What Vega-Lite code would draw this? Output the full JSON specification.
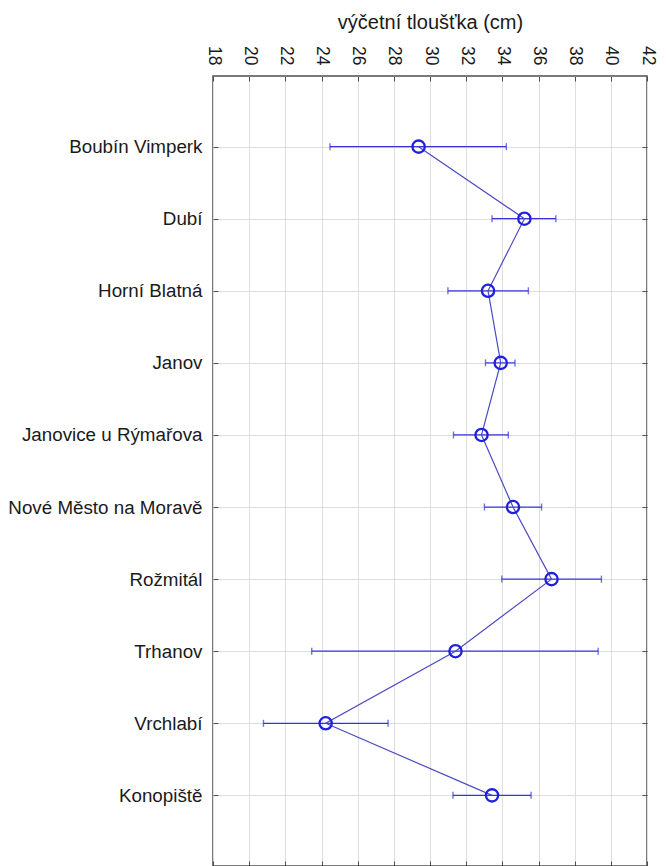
{
  "$schema": "https://vega.github.io/schema/vega-lite/v6.json",
  "autosize": {"type": "none"},
  "width": 434,
  "height": 790,
  "padding": {"left": 213, "top": 76, "right": 19, "bottom": 0},
  "background": "white",
  "data": {
    "values": [
      {"poradi": 1, "lokalita": "Boubín Vimperk", "prumer": 29.37, "dolni": 24.47, "horni": 34.22},
      {"poradi": 2, "lokalita": "Dubí", "prumer": 35.22, "dolni": 33.43, "horni": 36.96},
      {"poradi": 3, "lokalita": "Horní Blatná", "prumer": 33.21, "dolni": 30.99, "horni": 35.44},
      {"poradi": 4, "lokalita": "Janov", "prumer": 33.91, "dolni": 33.07, "horni": 34.7},
      {"poradi": 5, "lokalita": "Janovice u Rýmařova", "prumer": 32.85, "dolni": 31.3, "horni": 34.33},
      {"poradi": 6, "lokalita": "Nové Město na Moravě", "prumer": 34.59, "dolni": 33.01, "horni": 36.17},
      {"poradi": 7, "lokalita": "Rožmitál", "prumer": 36.72, "dolni": 33.97, "horni": 39.48},
      {"poradi": 8, "lokalita": "Trhanov", "prumer": 31.41, "dolni": 23.46, "horni": 39.3},
      {"poradi": 9, "lokalita": "Vrchlabí", "prumer": 24.23, "dolni": 20.79, "horni": 27.68},
      {"poradi": 10, "lokalita": "Konopiště", "prumer": 33.43, "dolni": 31.27, "horni": 35.59}
    ]
  },
  "encoding": {
    "y": {
      "field": "lokalita",
      "type": "nominal",
      "sort": ["Boubín Vimperk", "Dubí", "Horní Blatná", "Janov", "Janovice u Rýmařova", "Nové Město na Moravě", "Rožmitál", "Trhanov", "Vrchlabí", "Konopiště"],
      "scale": {"type": "point", "padding": 0.98},
      "axis": null
    }
  },
  "layer": [
    {
      "mark": {"type": "rule", "color": "#3535d6", "strokeWidth": 1.2},
      "encoding": {
        "x": {
          "field": "dolni",
          "type": "quantitative",
          "scale": {"domain": [18, 42], "nice": false, "zero": false},
          "axis": {
            "orient": "top",
            "title": "výčetní tloušťka (cm)",
            "titleFontSize": 20,
            "titleFontWeight": "normal",
            "titleColor": "#1a1a1a",
            "titlePadding": 13,
            "values": [18, 20, 22, 24, 26, 28, 30, 32, 34, 36, 38, 40, 42],
            "labelAngle": 90,
            "labelFontSize": 17.5,
            "labelPadding": 16,
            "grid": true
          }
        },
        "x2": {"field": "horni"},
        "y": {
          "field": "lokalita",
          "type": "nominal",
          "sort": ["Boubín Vimperk", "Dubí", "Horní Blatná", "Janov", "Janovice u Rýmařova", "Nové Město na Moravě", "Rožmitál", "Trhanov", "Vrchlabí", "Konopiště"],
          "scale": {"type": "point", "padding": 0.98},
          "axis": {
            "orient": "left",
            "title": null,
            "labelFontSize": 18.8,
            "labelPadding": 16,
            "labelLimit": 400,
            "grid": true
          }
        }
      }
    },
    {
      "mark": {"type": "tick", "color": "#3535d6", "thickness": 1.4, "size": 7},
      "encoding": {
        "x": {
          "field": "dolni",
          "type": "quantitative",
          "axis": {"orient": "bottom", "title": null, "labels": false, "grid": false, "values": [18, 20, 22, 24, 26, 28, 30, 32, 34, 36, 38, 40, 42]}
        },
        "y": {
          "field": "lokalita",
          "type": "nominal",
          "sort": ["Boubín Vimperk", "Dubí", "Horní Blatná", "Janov", "Janovice u Rýmařova", "Nové Město na Moravě", "Rožmitál", "Trhanov", "Vrchlabí", "Konopiště"],
          "axis": {"orient": "right", "title": null, "labels": false, "grid": false}
        }
      }
    },
    {
      "mark": {"type": "tick", "color": "#3535d6", "thickness": 1.4, "size": 7},
      "encoding": {
        "x": {"field": "horni", "type": "quantitative", "axis": null}
      }
    },
    {
      "mark": {"type": "line", "color": "#4a4ac4", "strokeWidth": 1.2},
      "encoding": {
        "x": {"field": "prumer", "type": "quantitative", "axis": null},
        "order": {"field": "poradi", "type": "quantitative"}
      }
    },
    {
      "mark": {"type": "point", "shape": "circle", "filled": false, "color": "#1f1fe0", "strokeWidth": 2.3, "size": 150, "opacity": 1},
      "encoding": {
        "x": {"field": "prumer", "type": "quantitative", "axis": null}
      }
    }
  ],
  "resolve": {"axis": {"x": "independent", "y": "independent"}},
  "config": {
    "view": {"stroke": "#4d4d4d", "strokeWidth": 1.5},
    "axis": {
      "domain": false,
      "tickColor": "#4d4d4d",
      "tickSize": -5,
      "tickWidth": 1,
      "labelFont": "Liberation Sans",
      "titleFont": "Liberation Sans",
      "labelColor": "#1a1a1a",
      "gridColor": "#dedede",
      "gridWidth": 1
    }
  }
}
